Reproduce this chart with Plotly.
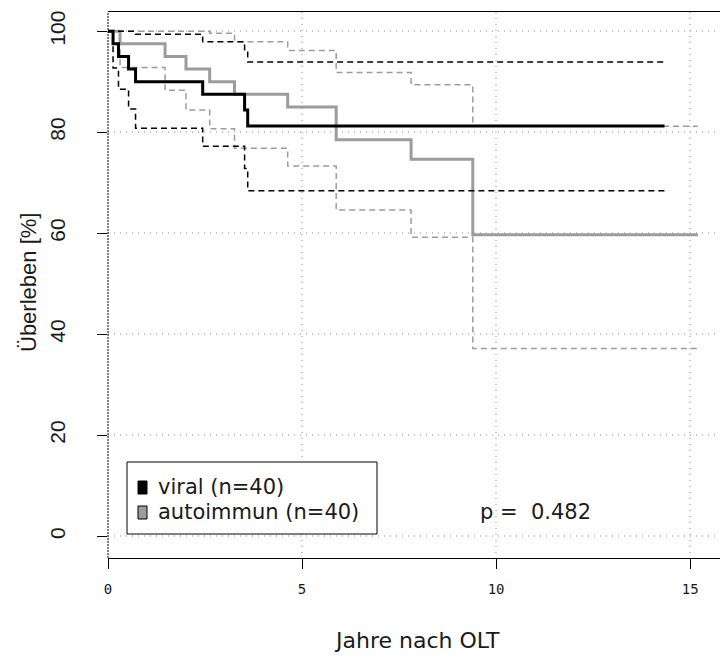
import plotly.graph_objects as go

# ---- data ----
viral_time  = [0, 0.13, 0.27, 0.53, 0.71, 2.44, 3.52, 3.60, 14.34]
viral_surv  = [100, 97.5, 95.0, 92.5, 90.0, 87.5, 84.4, 81.25, 81.25]
viral_lower = [100, 92.7, 88.5, 84.6, 80.8, 77.2, 72.8, 68.4, 68.4]
viral_upper = [100, 100, 100, 100, 99.4, 97.9, 96.0, 93.9, 93.9]

auto_time  = [0, 0.31, 1.47, 2.01, 2.62, 3.26, 4.63, 5.88, 7.81, 9.40, 15.20]
auto_surv  = [100, 97.5, 95.0, 92.5, 90.0, 87.5, 85.0, 78.5, 74.65, 59.7, 59.7]
auto_lower = [100, 92.8, 88.3, 84.4, 80.7, 76.8, 73.3, 64.6, 59.2, 37.2, 37.2]
auto_upper = [100, 100, 100, 100, 99.6, 97.9, 96.2, 91.8, 89.4, 81.2, 81.2]

x_ticks = [0, 5, 10, 15]
y_ticks = [0, 20, 40, 60, 80, 100]
legend_labels = ["viral (n=40)", "autoimmun (n=40)"]
p_text = "p =  0.482"

BLACK = "#000000"
GRAY = "#9c9c9c"
FONT = "Liberation Sans"
WFONT = "DejaVu Sans"
TXT = "#1a1a1a"

W, H = 720, 660
ML, MR, MT, MB = 108, 0, 12, 102
PW, PH = W - ML - MR, H - MT - MB

def px(x):
    return (x - ML) / PW

def py(y):
    return (H - MB - y) / PH

fig = go.Figure()

def step(t, v, color, width, dash=None):
    fig.add_trace(go.Scatter(
        x=t, y=v, mode="lines", line_shape="hv",
        line=dict(color=color, width=width, dash=dash),
        showlegend=False, hoverinfo="skip"))

dash_pat = "6px,4px"
step(auto_time, auto_upper, GRAY, 1.5, dash_pat)
step(auto_time, auto_lower, GRAY, 1.5, dash_pat)
step(auto_time, auto_surv, GRAY, 3)
step(viral_time, viral_upper, BLACK, 1.5, dash_pat)
step(viral_time, viral_lower, BLACK, 1.5, dash_pat)
step(viral_time, viral_surv, BLACK, 3)

shapes = []
# dashed left frame line
shapes.append(dict(type="line", xref="paper", yref="paper", x0=0, x1=0, y0=0, y1=1,
                   line=dict(color=BLACK, width=1, dash="2px,1px")))
# legend box
shapes.append(dict(type="rect", xref="paper", yref="paper",
                   x0=px(127), x1=px(377), y0=py(534), y1=py(462),
                   line=dict(color=BLACK, width=1), fillcolor="white", layer="above"))
# legend keys
shapes.append(dict(type="rect", xref="paper", yref="paper",
                   x0=px(138), x1=px(147), y0=py(494), y1=py(481),
                   line=dict(color=BLACK, width=1), fillcolor=BLACK, layer="above"))
shapes.append(dict(type="rect", xref="paper", yref="paper",
                   x0=px(138), x1=px(147), y0=py(519), y1=py(506),
                   line=dict(color=BLACK, width=1), fillcolor=GRAY, layer="above"))

annotations = [
    dict(text=legend_labels[0], xref="paper", yref="paper", x=px(156), y=py(487),
         xanchor="left", yanchor="middle", showarrow=False,
         font=dict(family=WFONT, size=21, color=TXT)),
    dict(text=legend_labels[1], xref="paper", yref="paper", x=px(156), y=py(512),
         xanchor="left", yanchor="middle", showarrow=False,
         font=dict(family=WFONT, size=21, color=TXT)),
    dict(text=p_text, xref="paper", yref="paper", x=px(478), y=py(512),
         xanchor="left", yanchor="middle", showarrow=False,
         font=dict(family=WFONT, size=21, color=TXT)),
    dict(text="Jahre nach OLT", xref="paper", yref="paper", x=px(417), y=py(640),
         xanchor="center", yanchor="middle", showarrow=False,
         font=dict(family=WFONT, size=22, color=TXT)),
    dict(text="Überleben [%]", xref="paper", yref="paper", x=px(28), y=py(283),
         xanchor="center", yanchor="middle", showarrow=False, textangle=-90,
         font=dict(family=FONT, size=22, color=TXT)),
]

fig.update_layout(
    width=W, height=H,
    margin=dict(l=ML, r=MR, t=MT, b=MB, pad=0),
    paper_bgcolor="white", plot_bgcolor="white",
    shapes=shapes, annotations=annotations,
    xaxis=dict(range=[0, 15.77], tickvals=x_ticks, ticktext=[str(v) for v in x_ticks],
               ticks="outside", ticklen=10, tickcolor=BLACK, tickwidth=1,
               showline=True, linecolor=BLACK, linewidth=1, mirror=True,
               showgrid=True, gridcolor="#c4c4c4", griddash="1px,5px", gridwidth=1.5,
               zeroline=False, ticklabelstandoff=8,
               tickfont=dict(family="DejaVu Sans Mono", size=14, color=TXT)),
    yaxis=dict(range=[-4.3, 103.8], tickvals=y_ticks, ticktext=[str(v) for v in y_ticks],
               ticks="outside", ticklen=10, tickcolor=BLACK, tickwidth=1,
               showline=False, tickangle=-90,
               showgrid=True, gridcolor="#c4c4c4", griddash="1px,5px", gridwidth=1.5,
               zeroline=False, ticklabelstandoff=24,
               tickfont=dict(family=FONT, size=21, color=TXT)),
)

fig.write_html("out.html", config={"displayModeBar": False},
               post_script="document.body.style.margin='0';")
